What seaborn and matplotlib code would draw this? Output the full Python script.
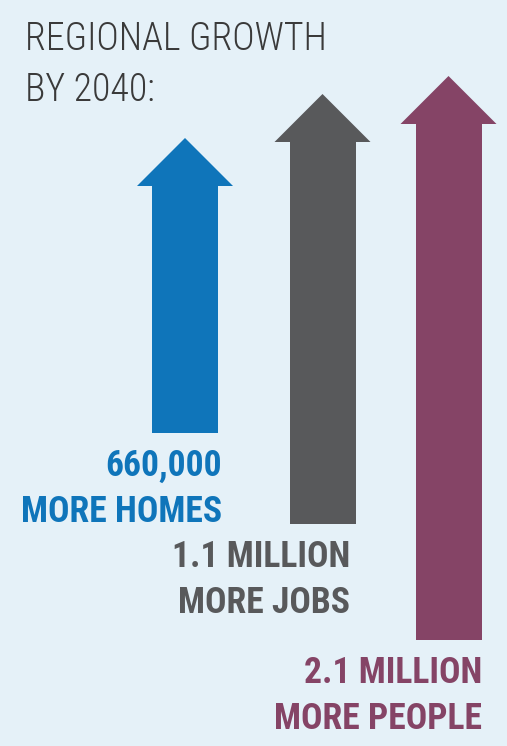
import matplotlib.pyplot as plt
from matplotlib import font_manager
import seaborn as sns

# Data (arrow extents in chart units, measured from the bottom of the graphic)
categories = ['homes', 'jobs', 'people']
value_lines = ['660,000', '1.1 MILLION', '2.1 MILLION']
unit_lines = ['MORE HOMES', 'MORE JOBS', 'MORE PEOPLE']
arrow_base = [313, 222, 106]
arrow_tip = [608, 652, 670]
title_lines = ['REGIONAL GROWTH', 'BY 2040:']

# Layout / style
W, H = 507, 746
arrow_x = [185, 322.5, 448.5]
label_right = [222, 350, 482]
colors = ['#0f75ba', '#58595b', '#854466']
bg = '#e5f1f8'
shaft_w = 66
head_w = 96
head_h = 48

sns.set_theme(style='white', rc={'figure.facecolor': bg, 'axes.facecolor': bg})

installed = {f.name for f in font_manager.fontManager.ttflist}
if 'Roboto Condensed' in installed:
    narrow = ['Roboto Condensed', 'DejaVu Sans']
    label_size, title_size = 25.7, 27.3
else:
    narrow = ['Roboto', 'DejaVu Sans']
    label_size, title_size = 21, 24

fig = plt.figure(figsize=(W / 100, H / 100), dpi=100)
ax = fig.add_axes([0, 0, 1, 1])
ax.set_xlim(0, W)
ax.set_ylim(0, H)
ax.axis('off')

# Arrows: shaft + head
for x, b, t, c in zip(arrow_x, arrow_base, arrow_tip, colors):
    ax.bar(x, (t - head_h) - b, bottom=b, width=shaft_w, color=c, linewidth=0)
    ax.fill([x - head_w / 2, x, x + head_w / 2], [t - head_h, t, t - head_h],
            color=c, linewidth=0)

# Labels under each arrow
for i in range(len(categories)):
    y0 = arrow_base[i] - 43
    ax.text(label_right[i], y0, value_lines[i], ha='right', va='baseline',
            fontsize=label_size, fontweight='bold', color=colors[i], family=narrow)
    ax.text(label_right[i], y0 - 46, unit_lines[i], ha='right', va='baseline',
            fontsize=label_size, fontweight='bold', color=colors[i], family=narrow)

# Title
ax.text(25, H - 50, title_lines[0], ha='left', va='baseline', fontsize=title_size,
        fontweight='light', color='#3a3a3a', family=narrow)
ax.text(25, H - 101, title_lines[1], ha='left', va='baseline', fontsize=title_size,
        fontweight='light', color='#3a3a3a', family=narrow)

fig.savefig('out.png', dpi=100, facecolor=bg)
